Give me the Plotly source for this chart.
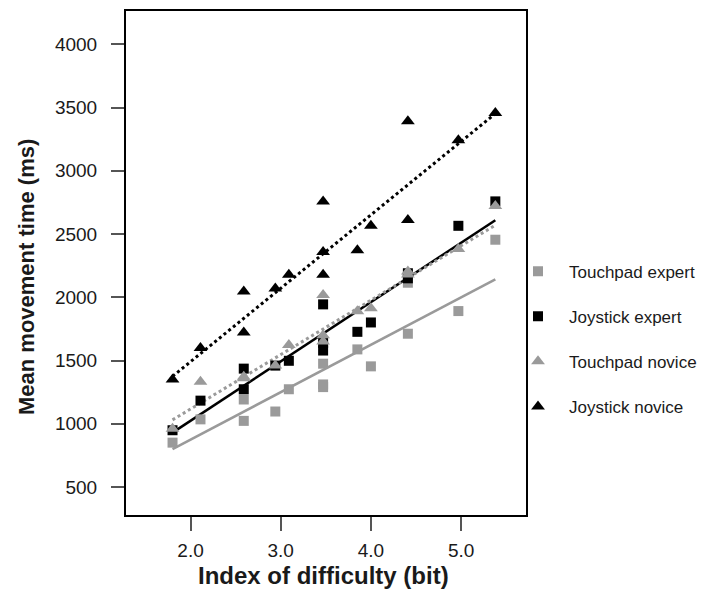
import plotly.graph_objects as go

# Index of difficulty (bit) for each condition point
x_pts = [1.80, 2.11, 2.59, 2.59, 2.94, 3.09, 3.47, 3.47, 3.47, 3.85, 4.00, 4.41, 4.41, 4.97, 5.38]

# Mean movement time (ms)
touchpad_expert = [851, 1035, 1192, 1023, 1097, 1273, 1475, 1311, 1290, 1588, 1454, 1712, 2115, 1891, 2455]
joystick_expert = [949, 1183, 1436, 1273, 1460, 1498, 1944, 1579, 1640, 1727, 1801, 2190, 2150, 2565, 2758]
touchpad_novice = [960, 1332, 1371, 1360, 1460, 1623, 2018, 1700, 1650, 1890, 1914, 2203, 2180, 2381, 2722]
joystick_novice = [1350, 1600, 2045, 1721, 2069, 2179, 2758, 2357, 2179, 2372, 2565, 3391, 2610, 3242, 3456]

# Regression lines: x range and fitted values at its ends
fit_x = [1.80, 5.38]
fit_touchpad_expert = [800, 2141]
fit_joystick_expert = [930, 2609]
fit_touchpad_novice = [1031, 2570]
fit_joystick_novice = [1375, 3452]

series_names = ["Touchpad expert", "Joystick expert", "Touchpad novice", "Joystick novice"]
series_vals = [touchpad_expert, joystick_expert, touchpad_novice, joystick_novice]
series_fits = [fit_touchpad_expert, fit_joystick_expert, fit_touchpad_novice, fit_joystick_novice]

y_ticks = [500, 1000, 1500, 2000, 2500, 3000, 3500, 4000]
x_ticks = [2.0, 3.0, 4.0, 5.0]
x_tick_labels = ["2.0", "3.0", "4.0", "5.0"]

GRAY = "#9a9a9a"
BLACK = "#000000"
styles = {
    "Touchpad expert": dict(color=GRAY, symbol="square", msize=10, dash="solid", lw=2.5),
    "Joystick expert": dict(color=BLACK, symbol="square", msize=10, dash="solid", lw=2.5),
    "Touchpad novice": dict(color=GRAY, symbol="triangle-up", msize=12, dash="dot", lw=3),
    "Joystick novice": dict(color=BLACK, symbol="triangle-up", msize=12, dash="dot", lw=3),
}

fig = go.Figure()
for name, fit in zip(series_names, series_fits):
    st = styles[name]
    fig.add_trace(go.Scatter(
        x=fit_x, y=fit, mode="lines",
        line=dict(color=st["color"], width=st["lw"], dash=st["dash"]),
        showlegend=False, hoverinfo="skip"))

for name, vals in zip(series_names, series_vals):
    st = styles[name]
    fig.add_trace(go.Scatter(
        x=x_pts, y=vals, mode="markers", name=name, legendgroup=name,
        marker=dict(color=st["color"], symbol=st["symbol"], size=st["msize"],
                    line=dict(width=0))))

fig.update_layout(
    width=701, height=591,
    margin=dict(l=126, r=175, t=11, b=76, autoexpand=False),
    plot_bgcolor="white", paper_bgcolor="white",
    font=dict(family="Liberation Sans, Arial, sans-serif", color="#1a1a1a"),
    legend=dict(x=0.9525, xanchor="left", y=0.349, yanchor="middle",
                font=dict(size=17, color="#1a1a1a"), itemwidth=52,
                tracegroupgap=20, bgcolor="rgba(0,0,0,0)"),
    annotations=[
        dict(text="<b>Mean movement time (ms)</b>", xref="paper", yref="paper",
             x=-0.249, y=0.473, textangle=-90, showarrow=False,
             font=dict(size=22, color="#1a1a1a"), xanchor="center", yanchor="middle"),
        dict(text="<b>Index of difficulty (bit)</b>", xref="paper", yref="paper",
             x=0.494, y=-0.121, showarrow=False,
             font=dict(size=24, color="#1a1a1a"), xanchor="center", yanchor="middle"),
    ],
)
fig.update_xaxes(
    range=[1.284, 5.72], tickvals=x_ticks, ticktext=x_tick_labels,
    showgrid=False, zeroline=False,
    showline=True, linecolor="black", linewidth=2, mirror=True,
    ticks="outside", ticklen=14, tickwidth=2, tickcolor="#555",
    ticklabelstandoff=3,
    tickfont=dict(size=19),
)
fig.update_yaxes(
    range=[279, 4263], tickvals=y_ticks,
    showgrid=False, zeroline=False,
    showline=True, linecolor="black", linewidth=2, mirror=True,
    ticks="outside", ticklen=13, tickwidth=2, tickcolor="#555",
    ticklabelstandoff=10,
    tickfont=dict(size=19),
)

fig.write_html("out.html", config={"displayModeBar": False},
               post_script="document.body.style.margin='0';")
